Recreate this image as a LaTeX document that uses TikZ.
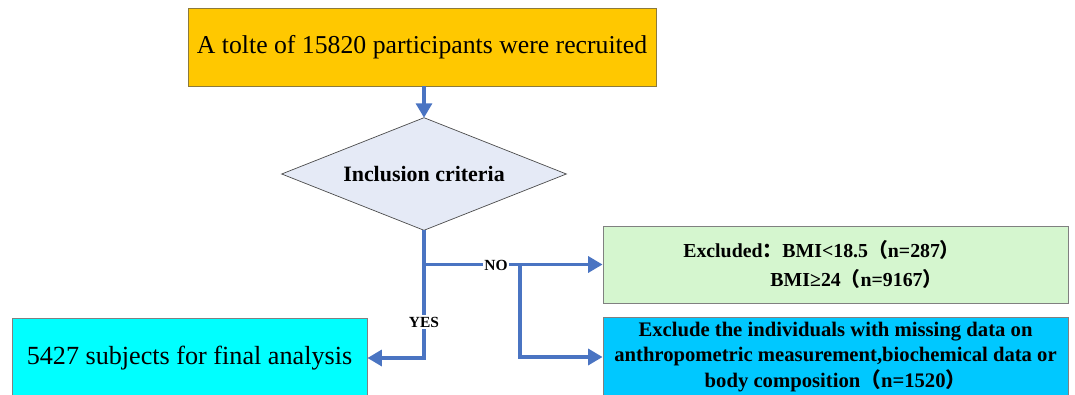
\documentclass[tikz,border=0pt]{standalone}
\usepackage{fontspec}
\setmainfont{Liberation Serif}
\newfontfamily\cjk{Noto Sans CJK SC}
\usetikzlibrary{arrows.meta}
\definecolor{gold}{HTML}{FFC800}
\definecolor{goldline}{HTML}{8C7A3C}
\definecolor{lav}{HTML}{E5EAF6}
\definecolor{lgreen}{HTML}{D5F6CF}
\definecolor{skyb}{HTML}{00C8FF}
\definecolor{cyanb}{HTML}{00FFFF}
\definecolor{conn}{HTML}{4A74C2}
\tikzset{
  boxs/.style={draw=#1, line width=0.6pt, inner sep=0pt, align=center},
  connline/.style={draw=conn, line width=2.3pt},
  arr/.style={connline, -{Triangle[length=0.36cm,width=0.4cm]}},
  lbl/.style={fill=white, inner sep=1pt, font=\bfseries\fontsize{11}{13}\selectfont}
}
\begin{document}
\begin{tikzpicture}[x=0.025cm,y=-0.025cm]
\clip (0,0) rectangle (1075,394);
\fill[white] (0,0) rectangle (1075,394);
\node[boxs=goldline, fill=gold, minimum width=11.7cm, minimum height=1.95cm,
      font=\rmfamily\fontsize{18.3}{22}\selectfont] (top) at (422,47) {A tolte of 15820 participants were recruited};
\node[inner sep=0pt, minimum width=7.1cm, minimum height=2.8cm] (inc) at (424,174) {};
\draw[draw=black!70, line width=0.5pt, fill=lav] (inc.north) -- (inc.east) -- (inc.south) -- (inc.west) -- cycle;
\node[font=\bfseries\fontsize{15.6}{18}\selectfont] (inct) at (inc.center) {Inclusion criteria};
\node[boxs=black!50, fill=lgreen, minimum width=11.625cm, minimum height=1.925cm] (ex1) at (835.5,264.5) {};
\node[align=left, anchor=west, inner sep=0pt, font=\bfseries\fontsize{14.1}{20}\selectfont] (ex1t) at (683,264.5)
  {Excluded{\cjk ：}BMI<18.5{\cjk （}n=287{\cjk ）}\\\hspace*{62pt}BMI≥24{\cjk （}n=9167{\cjk ）}};
\node[boxs=black!50, fill=skyb, minimum width=11.625cm, minimum height=2cm,
      font=\bfseries\fontsize{14.7}{18}\selectfont] (ex2) at (835.5,357)
  {Exclude the individuals with missing data on\\anthropometric measurement,biochemical data or\\body composition{\cjk （}n=1520{\cjk ）}};
\node[boxs=black!50, fill=cyanb, minimum width=8.875cm, minimum height=2cm,
      font=\rmfamily\fontsize{18.6}{22}\selectfont] (fin) at (189.5,358) {5427 subjects for final analysis};
\coordinate (br) at (inc.south |- ex1.west);
\coordinate (sp) at (520,264.5);
\draw[arr] (inc.north |- top.south) -- (inc.north);
\draw[arr] (inc.south) |- (fin.east);
\draw[connline] (br) -- (sp);
\draw[arr] (sp) -- (ex1.west);
\draw[arr] (sp) |- (ex2.west);
\node[lbl] (no) at (496,265) {NO};
\node[lbl] (yes) at (424,322) {YES};
\end{tikzpicture}
\end{document}
